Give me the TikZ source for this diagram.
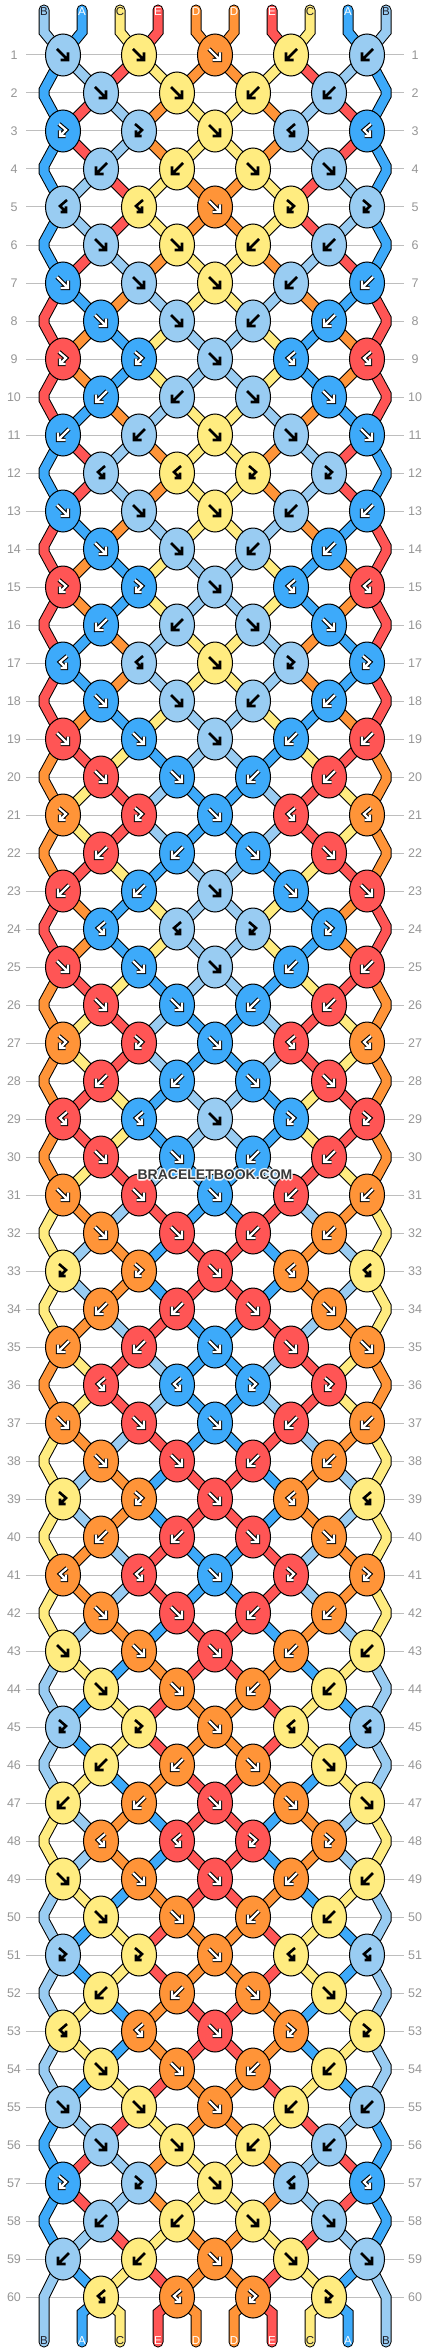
\documentclass[tikz,border=0pt]{standalone}
\usepackage{fontspec}
\setmainfont{Liberation Sans}
\definecolor{cB}{RGB}{153,204,242}
\definecolor{cA}{RGB}{61,170,250}
\definecolor{cC}{RGB}{255,236,128}
\definecolor{cE}{RGB}{255,85,85}
\definecolor{cD}{RGB}{255,148,56}
\definecolor{rowgray}{RGB}{190,190,190}
\definecolor{numgray}{RGB}{150,150,150}
\definecolor{labdark}{RGB}{30,30,40}
\def\darkA{1}\def\darkE{1}\def\darkD{1}\def\darkB{0}\def\darkC{0}
\def\setS#1#2#3#4#5{\def\Sa{#1}\def\Sb{#2}\def\Sc{#3}\def\Sd{#4}\def\Se{#5}}
\newcommand\getxy[2]{%
  \pgfmathsetmacro\py{55+38*(#1-1)}%
  \pgfmathsetmacro\px{isodd(#1) ? 63+76*floor((#2-1)/2) : ((#2==1) ? 44 : ((#2==10) ? 386 : 101+76*(floor(#2/2)-1)))}%
}
\def\arrF#1{\draw[#1] (-6,-6) -- (5,5) (5,-2.5) -- (5,5) -- (-2.5,5);}
\def\arrB#1{\draw[#1] (6,-6) -- (-5,5) (-5,-2.5) -- (-5,5) -- (2.5,5);}
\def\arrFB#1{\draw[#1] (-4,-7) -- (3,-1) -- (-3,5) (-3,-0.5) -- (-3,5) -- (2.5,5);}
\def\arrBF#1{\draw[#1] (4,-7) -- (-3,-1) -- (3,5) (3,-0.5) -- (3,5) -- (-2.5,5);}
\newcommand\knotarrow[2]{\ifcase#1\or\arrF{#2}\or\arrB{#2}\or\arrFB{#2}\or\arrBF{#2}\fi}
\newcommand\drawknot[4]{%
  \edef\kc{c#3}%
  \filldraw[fill=\kc, draw=black, line width=1pt] (#1,#2) ellipse [x radius=17.5, y radius=21];
  \begin{scope}[shift={(#1,#2)}, line join=miter]
    \ifnum\csname dark#3\endcsname=1
      \knotarrow{#4}{black, line width=4.4pt}
      \knotarrow{#4}{white, line width=2.2pt}
    \else
      \knotarrow{#4}{black, line width=2.6pt}
    \fi
  \end{scope}
}
\begin{document}
\begin{tikzpicture}[x=1pt,y=-1pt,
  str/.style={draw=black, double=#1, double distance=9pt, line width=1pt},
  rowline/.style={draw=rowgray, line width=1pt},
  rownum/.style={font=\fontsize{12.5}{13}\selectfont, text=numgray, inner sep=0pt},
  strlab/.style={font=\fontsize{11.5}{12}\selectfont, inner sep=0pt},
  wm/.style={font=\bfseries\fontsize{14}{14}\selectfont, inner sep=0pt}]
\useasboundingbox (0,0) rectangle (430,2352);
\fill[white] (0,0) rectangle (430,2352);
% row lines and numbers
\foreach \rr in {1,...,60} {
  \pgfmathsetmacro\y{55+38*(\rr-1)}
  \draw[rowline] (26,\y) -- (404,\y);
  \node[rownum] (L\rr) at (14,\y) {\rr};
  \node[rownum] (R\rr) at (415,\y) {\rr};
}
% strings
\foreach \rr/\st in {0/BACED,1/ABECD,2/AEBDC,3/AEBDC,4/ABECD,5/ABECD,6/AEBDC,7/EADBC,8/EDACB,9/EDACB,10/EADBC,11/AEBDC,12/AEBDC,13/EADBC,14/EDACB,15/EDACB,16/EADBC,17/EADBC,18/EDACB,19/DECAB,20/DCEBA,21/DCEBA,22/DECAB,23/EDACB,24/EDACB,25/DECAB,26/DCEBA,27/DCEBA,28/DECAB,29/DECAB,30/DCEBA,31/CDBEA,32/CBDAE,33/CBDAE,34/CDBEA,35/DCEBA,36/DCEBA,37/CDBEA,38/CBDAE,39/CBDAE,40/CDBEA,41/CDBEA,42/CBDAE,43/BCADE,44/BACED,45/BACED,46/BCADE,47/CBDAE,48/CBDAE,49/BCADE,50/BACED,51/BACED,52/BCADE,53/BCADE,54/BACED,55/ABECD,56/AEBDC,57/AEBDC,58/ABECD,59/BACED,60/BACED} {
  \expandafter\setS\st
  \foreach \p in {1,...,10} {
    \pgfmathtruncatemacro\q{\p<6 ? \p : 11-\p}
    \edef\col{c\ifcase\q\or\Sa\or\Sb\or\Sc\or\Sd\or\Se\fi}
    \pgfmathsetmacro\xo{44+38*(\p-1)}
    \ifnum\rr=0
      \getxy{1}{\p}
      \draw[str=\col, line cap=round] (\xo,10) -- (\xo,32) -- (\px,\py);
    \else\ifnum\rr=60
      \ifnum\p=1 \else\ifnum\p=10 \else
        \getxy{60}{\p}
        \draw[str=\col, line cap=round] (\px,\py) -- (\xo,2313) -- (\xo,2342);
      \fi\fi
    \else
      \ifnum\p=1 \def\edge{1}\else\ifnum\p=10 \def\edge{1}\else\def\edge{0}\fi\fi
      \ifnum\edge=0
        \getxy{\rr}{\p}\let\xa\px\let\ya\py
        \getxy{\rr+1}{\p}
        \draw[str=\col] (\xa,\ya) -- (\px,\py);
      \else
        \ifodd\rr\relax
          \pgfmathsetmacro\xe{\p==1 ? 44 : 386}
          \pgfmathsetmacro\xk{\p==1 ? 63 : 367}
          \pgfmathsetmacro\ya{55+38*(\rr-1)}
          \pgfmathsetmacro\ym{55+38*\rr}
          \ifnum\rr=59
            \draw[str=\col, line cap=round] (\xk,\ya) -- (\xe,\ym) -- (\xe,2342);
          \else
            \pgfmathsetmacro\yb{55+38*(\rr+1)}
            \draw[str=\col] (\xk,\ya) -- (\xe,\ym-3) -- (\xe,\ym+3) -- (\xk,\yb);
          \fi
        \fi
      \fi
    \fi\fi
  }
}
% knots
\foreach \rr/\kA/\tA/\kB/\tB/\kM in {1/B/1/C/1/D,2/B/1/C/1/x,3/A/3/B/3/C,4/B/2/C/2/x,5/B/4/C/4/D,6/B/1/C/1/x,7/A/1/B/1/C,8/A/1/B/1/x,9/E/3/A/3/B,10/A/2/B/2/x,11/A/2/B/2/C,12/B/4/C/4/x,13/A/1/B/1/C,14/A/1/B/1/x,15/E/3/A/3/B,16/A/2/B/2/x,17/A/4/B/4/C,18/A/1/B/1/x,19/E/1/A/1/B,20/E/1/A/1/x,21/D/3/E/3/A,22/E/2/A/2/x,23/E/2/A/2/B,24/A/4/B/4/x,25/E/1/A/1/B,26/E/1/A/1/x,27/D/3/E/3/A,28/E/2/A/2/x,29/E/4/A/4/B,30/E/1/A/1/x,31/D/1/E/1/A,32/D/1/E/1/x,33/C/3/D/3/E,34/D/2/E/2/x,35/D/2/E/2/A,36/E/4/A/4/x,37/D/1/E/1/A,38/D/1/E/1/x,39/C/3/D/3/E,40/D/2/E/2/x,41/D/4/E/4/A,42/D/1/E/1/x,43/C/1/D/1/E,44/C/1/D/1/x,45/B/3/C/3/D,46/C/2/D/2/x,47/C/2/D/2/E,48/D/4/E/4/x,49/C/1/D/1/E,50/C/1/D/1/x,51/B/3/C/3/D,52/C/2/D/2/x,53/C/4/D/4/E,54/C/1/D/1/x,55/B/1/C/1/D,56/B/1/C/1/x,57/A/3/B/3/C,58/B/2/C/2/x,59/B/2/C/2/D,60/C/4/D/4/x} {
  \pgfmathsetmacro\y{55+38*(\rr-1)}
  \pgfmathtruncatemacro\tAm{isodd(\tA) ? \tA+1 : \tA-1}
  \pgfmathtruncatemacro\tBm{isodd(\tB) ? \tB+1 : \tB-1}
  \ifodd\rr\relax
    \drawknot{63}{\y}{\kA}{\tA}
    \drawknot{139}{\y}{\kB}{\tB}
    \drawknot{215}{\y}{\kM}{1}
    \drawknot{291}{\y}{\kB}{\tBm}
    \drawknot{367}{\y}{\kA}{\tAm}
  \else
    \drawknot{101}{\y}{\kA}{\tA}
    \drawknot{177}{\y}{\kB}{\tB}
    \drawknot{253}{\y}{\kB}{\tBm}
    \drawknot{329}{\y}{\kA}{\tAm}
  \fi
}
% string labels
\foreach \p/\l/\tc in {1/B/labdark,2/A/white,3/C/labdark,4/E/white,5/D/white,6/D/white,7/E/white,8/C/labdark,9/A/white,10/B/labdark} {
  \pgfmathsetmacro\xo{44+38*(\p-1)}
  \node[strlab, text=\tc] (top\p) at (\xo,12) {\l};
  \node[strlab, text=\tc] (bot\p) at (\xo,2341) {\l};
}
% watermark
\foreach \i/\dx/\dy in {1/-1.5/0,2/1.5/0,3/0/-1.5,4/0/1.5,5/-1/-1,6/1/1,7/-1/1,8/1/-1} {
  \node[wm, text=white, opacity=0.7] (wmh\i) at (215+\dx,1175+\dy) {BRACELETBOOK.COM};
}
\node[wm, text=black!78] (wm) at (215,1175) {BRACELETBOOK.COM};
\end{tikzpicture}
\end{document}
